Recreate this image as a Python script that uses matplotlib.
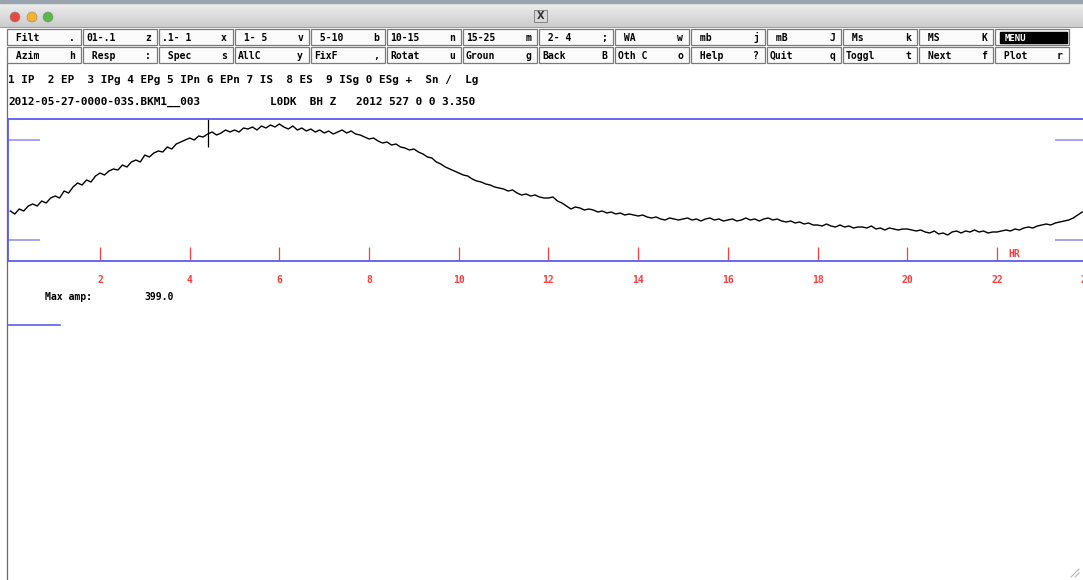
import numpy as np
import matplotlib.pyplot as plt
from matplotlib.patches import Rectangle, Circle

# button rows of the mulplt menu (label, key)
row1_labels = [" Filt", "01-.1", ".1- 1", " 1- 5", " 5-10", "10-15", "15-25",
               " 2- 4", " WA", " mb", " mB", " Ms", " MS", "MENU"]
row1_keys = [".", "z", "x", "v", "b", "n", "m", ";", "w", "j", "J", "k", "K", ""]
row2_labels = [" Azim", " Resp", " Spec", "AllC", "FixF", "Rotat", "Groun",
               "Back", "Oth C", " Help", "Quit", "Toggl", " Next", " Plot"]
row2_keys = ["h", ":", "s", "y", ",", "u", "g", "B", "o", "?", "q", "t", "f", "r"]

phase_line = "1 IP  2 EP  3 IPg 4 EPg 5 IPn 6 EPn 7 IS  8 ES  9 ISg 0 ESg +  Sn /  Lg"
file_name = "2012-05-27-0000-03S.BKM1__003"
station = "L0DK  BH Z"
start_time = "2012 527 0 0 3.350"
max_amp = 399.0

# trace amplitude, one sample every 0.1 hr
trace = [50, 47, 52, 50, 55, 57, 55, 60, 58, 63,
         65, 63, 70, 68, 74, 78, 76, 81, 79, 85,
         88, 86, 90, 92, 91, 96, 94, 99, 101, 99,
         106, 104, 108, 110, 109, 114, 112, 117, 119, 121,
         123, 121, 125, 124, 127, 129, 126, 128, 131, 129,
         131, 129, 133, 132, 134, 131, 135, 133, 136, 134,
         137, 134, 132, 135, 131, 133, 130, 132, 129, 131,
         128, 130, 127, 129, 131, 128, 130, 127, 126, 124,
         122, 123, 120, 118, 119, 116, 117, 114, 113, 111,
         112, 109, 107, 104, 103, 99, 97, 94, 92, 90,
         88, 86, 85, 82, 80, 79, 77, 76, 74, 73,
         72, 70, 71, 68, 66, 67, 65, 66, 64, 63,
         63, 64, 60, 58, 55, 52, 54, 53, 51, 52,
         51, 49, 50, 48, 49, 47, 48, 46, 47, 46,
         45, 46, 44, 43, 44, 42, 41, 43, 42, 41,
         42, 43, 41, 42, 40, 42, 43, 41, 42, 40,
         41, 42, 40, 41, 43, 41, 42, 40, 42, 43,
         41, 42, 40, 39, 40, 38, 39, 37, 38, 36,
         36, 35, 37, 35, 34, 36, 34, 35, 33, 34,
         34, 33, 35, 32, 33, 31, 33, 32, 31, 32,
         32, 31, 30, 31, 29, 28, 30, 27, 28, 26,
         29, 30, 28, 30, 29, 31, 29, 30, 28, 29,
         29, 30, 31, 30, 32, 31, 33, 34, 33, 35,
         36, 37, 36, 38, 39, 40, 41, 43, 46, 49]
spike_hr = 4.41
spike_range = [114, 143]
hour_ticks = [2, 4, 6, 8, 10, 12, 14, 16, 18, 20, 22, 24]

mono = "DejaVu Sans Mono"
blue = "#5c5cf0"
light_blue = "#9c9cf2"
red = "#ff3b3b"

fig = plt.figure(figsize=(10.83, 5.80), dpi=100)

# background in screen pixels
bg = fig.add_axes([0, 0, 1, 1])
bg.set_xlim(0, 1083)
bg.set_ylim(580, 0)
bg.axis("off")

# title bar
grad = np.linspace(0.93, 0.80, 50).reshape(-1, 1)
bg.imshow(grad, cmap="gray", vmin=0, vmax=1, extent=[0, 1083, 27, 3], aspect="auto")
bg.add_patch(Rectangle((0, 0), 1083, 3, color="#9aa4ae"))
bg.plot([0, 1083], [27, 27], color="#a0a0a0", lw=0.8)
for cx, col in zip([15, 32, 48], ["#e8483f", "#f2b42c", "#58b947"]):
    bg.add_patch(Circle((cx, 17), 5, facecolor=col, edgecolor="#888888", lw=0.4))
bg.add_patch(Rectangle((534, 10), 13, 12, facecolor="#d8d8d8", edgecolor="#777777", lw=0.6))
bg.text(540.5, 16, "X", fontsize=7, ha="center", va="center", color="#333333",
        fontweight="bold")

# buttons
for row, (labels, keys, top) in enumerate([(row1_labels, row1_keys, 29),
                                            (row2_labels, row2_keys, 47)]):
    for i, (lab, key) in enumerate(zip(labels, keys)):
        left = 7 + i * 76
        bg.add_patch(Rectangle((left, top), 74, 16, facecolor="#fbfbfb",
                               edgecolor="#7a7a7a", lw=0.9))
        if lab == "MENU":
            bg.add_patch(Rectangle((left + 5, top + 3), 67, 11, color="black"))
            bg.text(left + 10, top + 12, lab, family=mono, fontsize=6.5,
                    fontweight="bold", color="white", va="baseline")
            continue
        bg.text(left + 3, top + 12, lab, family=mono, fontsize=7,
                fontweight="bold", va="baseline")
        bg.text(left + 68, top + 12, key, family=mono, fontsize=7,
                fontweight="bold", va="baseline", ha="right")

# header text
bg.text(8, 83, phase_line, family=mono, fontsize=7.9, fontweight="bold", va="baseline")
bg.text(8, 105, file_name, family=mono, fontsize=7.9, fontweight="bold", va="baseline")
bg.text(270, 105, station, family=mono, fontsize=7.9, fontweight="bold", va="baseline")
bg.text(356, 105, start_time, family=mono, fontsize=7.9, fontweight="bold", va="baseline")

# window left edge
bg.plot([7, 7], [64, 580], color="#6a6a6a", lw=0.9)

# max amp
bg.text(45, 297, "Max amp:", family=mono, fontsize=7, fontweight="bold", va="center")
bg.text(144, 297, "%.1f" % max_amp, family=mono, fontsize=7, fontweight="bold", va="center")
bg.plot([8, 60], [325, 325], color=blue, lw=1.2)

# resize grip
bg.plot([1071, 1079], [577, 569], color="#aaaaaa", lw=0.7)
bg.plot([1075, 1079], [577, 573], color="#aaaaaa", lw=0.7)

# trace panel
ax = fig.add_axes([8 / 1083, (580 - 261) / 580, 1075 / 1083, 142 / 580])
ax.patch.set_alpha(0)
hours = np.arange(len(trace)) / 10
ax.plot(hours, trace, color="black", lw=1.0)
ax.vlines(spike_hr, spike_range[0], spike_range[1], color="black", lw=0.9)
ax.set_xlim(-0.051, 23.918)
ax.set_ylim(0, 142)
for s in ["top", "bottom", "left"]:
    ax.spines[s].set_color(blue)
    ax.spines[s].set_linewidth(1.3)
ax.spines["right"].set_visible(False)
ax.set_xticks([])
ax.set_yticks([])

# hour marks
ax.vlines(hour_ticks[:-1], 0, 14, color=red, lw=0.9)
for h in hour_ticks:
    ax.text(h, -19, str(h), family=mono, fontsize=7, fontweight="bold", color=red,
            ha="center", va="center", clip_on=False)
ax.text(22.25, 7, "HR", family=mono, fontsize=7, fontweight="bold", color=red,
        va="center")

# amplitude marks at both ends
ax.hlines([121, 21], -0.051, 0.66, color=light_blue, lw=1.3)
ax.hlines([121, 21], 23.29, 23.918, color=light_blue, lw=1.3)

fig.savefig("out.png", dpi=100)
